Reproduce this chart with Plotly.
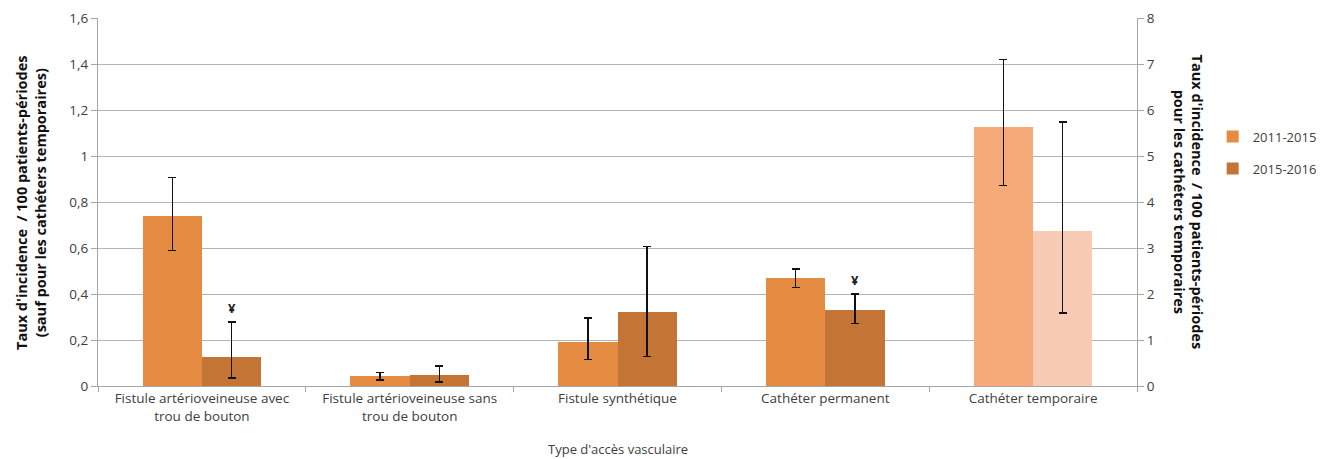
import plotly.graph_objects as go

# Vascular access types (x categories)
categories = [
    "Fistule artérioveineuse avec<br>trou de bouton",
    "Fistule artérioveineuse sans<br>trou de bouton",
    "Fistule synthétique",
    "Cathéter permanent",
    "Cathéter temporaire",
]
periods = ["2011-2015", "2015-2016"]

# Incidence rates / 100 patient-periods (first four categories, left axis)
rate_2011_2015 = [0.737, 0.043, 0.193, 0.471]
low_2011_2015 = [0.590, 0.026, 0.116, 0.428]
high_2011_2015 = [0.906, 0.058, 0.296, 0.509]

rate_2015_2016 = [0.125, 0.048, 0.320, 0.332]
low_2015_2016 = [0.035, 0.017, 0.128, 0.271]
high_2015_2016 = [0.278, 0.087, 0.607, 0.400]

# Temporary catheters (right axis)
temp_rate = [5.63, 3.36]
temp_low = [4.36, 1.59]
temp_high = [7.10, 5.74]

# Significant changes marked with ¥
flag_index = [0, 3]

left_ticks = [0, 0.2, 0.4, 0.6, 0.8, 1, 1.2, 1.4, 1.6]
right_ticks = [0, 1, 2, 3, 4, 5, 6, 7, 8]

FONT = "Open Sans"
TXT = "#404040"
BAR_W = 0.285
colors_main = ["#E68B42", "#C47535"]
colors_temp = ["#F6AA79", "#F8CBB4"]

fig = go.Figure()

main_sets = [
    (rate_2011_2015, low_2011_2015, high_2011_2015),
    (rate_2015_2016, low_2015_2016, high_2015_2016),
]
offsets = [-BAR_W, 0.0]

for k, (vals, lo, hi) in enumerate(main_sets):
    fig.add_trace(go.Bar(
        x=categories[:4], y=vals, name=periods[k],
        width=BAR_W, offset=offsets[k],
        marker=dict(color=colors_main[k], line=dict(width=0)),
        error_y=dict(type="data", symmetric=False,
                     array=[h - v for h, v in zip(hi, vals)],
                     arrayminus=[v - l for v, l in zip(vals, lo)],
                     color="#111111", thickness=1.3, width=4),
        legendgroup=periods[k], showlegend=True,
        yaxis="y",
    ))

for k in range(2):
    fig.add_trace(go.Bar(
        x=[categories[4]], y=[temp_rate[k]], name=periods[k],
        width=BAR_W, offset=offsets[k],
        marker=dict(color=colors_temp[k], line=dict(width=0)),
        error_y=dict(type="data", symmetric=False,
                     array=[temp_high[k] - temp_rate[k]],
                     arrayminus=[temp_rate[k] - temp_low[k]],
                     color="#111111", thickness=1.3, width=4),
        legendgroup=periods[k], showlegend=False,
        yaxis="y2",
    ))

for i in flag_index:
    fig.add_annotation(
        x=i + BAR_W / 2, y=high_2015_2016[i], xref="x", yref="y",
        text="<b>¥</b>", showarrow=False, yanchor="bottom", yshift=3,
        font=dict(family=FONT, size=13, color="#222222"),
    )

fig.add_annotation(
    x=-0.0645, y=0.5, xref="paper", yref="paper", textangle=-90,
    text="<b>Taux d'incidence  / 100 patients-périodes<br>(sauf pour les cathéters temporaires)</b>",
    showarrow=False, xanchor="center", yanchor="middle",
    font=dict(family=FONT, size=14.5, color="#111111"),
)
fig.add_annotation(
    x=1.0495, y=0.5, xref="paper", yref="paper", textangle=90,
    text="<b>Taux d'incidence  / 100 patients-périodes<br>pour les cathéters temporaires</b>",
    showarrow=False, xanchor="center", yanchor="middle",
    font=dict(family=FONT, size=14.5, color="#111111"),
)
fig.add_annotation(
    x=0.5, y=-0.171, xref="paper", yref="paper",
    text="Type d'accès vasculaire", showarrow=False,
    xanchor="center", yanchor="middle",
    font=dict(family=FONT, size=13, color=TXT),
)

fig.update_layout(
    width=1321, height=459,
    margin=dict(l=98, r=184, t=18, b=73, autoexpand=False),
    paper_bgcolor="white", plot_bgcolor="white",
    separators=", ",
    font=dict(family=FONT, size=13, color=TXT),
    bargap=0, showlegend=True,
    xaxis=dict(
        type="category", categoryorder="array", categoryarray=categories,
        showline=True, linecolor="#A6A6A6", linewidth=1,
        ticks="outside", tickson="boundaries", ticklen=5, tickcolor="#A6A6A6",
        showgrid=False, tickfont=dict(family=FONT, size=13.5, color=TXT),
        range=[-0.5, 4.5], automargin=False,
    ),
    yaxis=dict(
        range=[0, 1.6], tickvals=left_ticks,
        showgrid=True, gridcolor="#B4B4B4", gridwidth=1,
        showline=True, linecolor="#A6A6A6", linewidth=1,
        ticks="outside", ticklen=6, tickcolor="#A6A6A6",
        zeroline=False, tickfont=dict(family=FONT, size=13.5, color=TXT),
        automargin=False,
    ),
    yaxis2=dict(
        overlaying="y", side="right", range=[0, 8], tickvals=right_ticks,
        showgrid=False, showline=True, linecolor="#A6A6A6", linewidth=1,
        ticks="outside", ticklen=6, tickcolor="#A6A6A6",
        zeroline=False, tickfont=dict(family=FONT, size=13.5, color=TXT),
        automargin=False,
    ),
    legend=dict(
        xref="container", yref="container",
        x=0.918, y=0.735, xanchor="left", yanchor="top",
        traceorder="grouped", tracegroupgap=12,
        font=dict(family=FONT, size=13, color=TXT),
        bgcolor="rgba(0,0,0,0)", itemwidth=30,
    ),
)

fig.write_html("out.html")
